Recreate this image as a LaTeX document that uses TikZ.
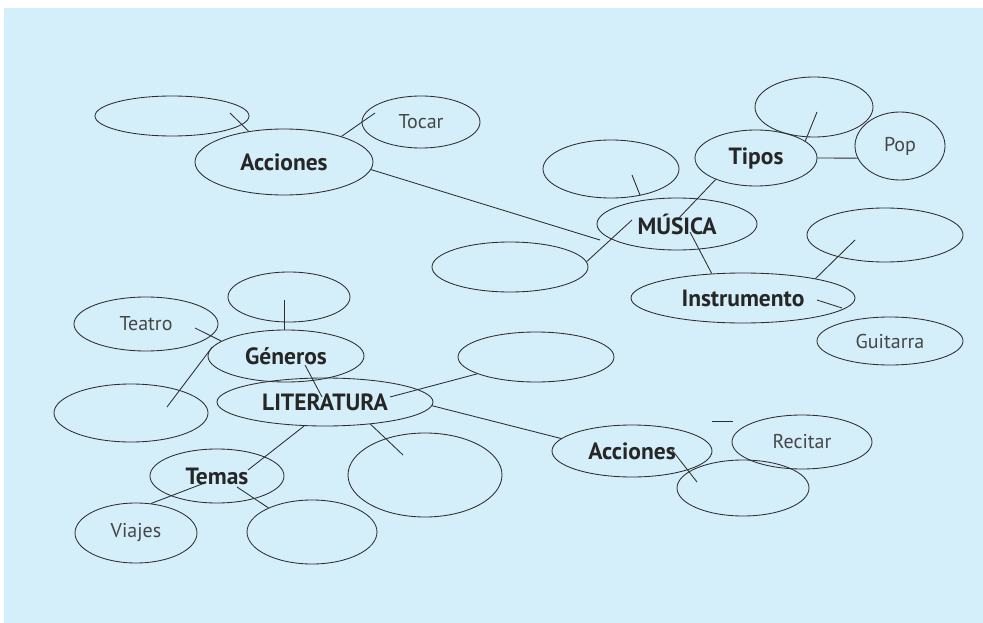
\documentclass[tikz,border=0pt]{standalone}
\usepackage{fontspec}
\setmainfont{PT Sans}
\usetikzlibrary{shapes.geometric}
\definecolor{mapblue}{RGB}{212,238,250}
\definecolor{mapline}{RGB}{45,45,45}
\definecolor{mapgray}{RGB}{70,70,70}

\begin{document}
\begin{tikzpicture}[x=1pt,y=-1pt,line width=0.85pt,color=mapline,
    oval/.style 2 args={draw=mapline,shape=ellipse,inner sep=0pt,minimum width=#1,minimum height=#2}]
    \tikzstyle{main}=[font=\fontsize{23.5}{24}\selectfont\bfseries,text=black!85]
    \tikzstyle{leaf}=[font=\fontsize{20}{20}\selectfont,text=mapgray]
    \useasboundingbox (0, 0) rectangle (983, 623);
    \fill[mapblue] (4, 8) rectangle (983, 623);

    \node at (172, 116) (acc1)    [oval={154pt}{40pt}] {};
    \node at (421, 122) (tocar)   [oval={118pt}{52pt},leaf] {Tocar};
    \node at (284, 162) (acc)     [oval={178pt}{66pt},main] {Acciones};
    \node at (814, 107) (tip1)    [oval={118pt}{60pt}] {};
    \node at (900, 146) (pop)     [oval={90pt}{68pt},leaf] {Pop};
    \node at (756, 158) (tipos)   [oval={122pt}{56pt},main] {Tipos};
    \node at (611, 169) (mus1)    [oval={136pt}{58pt}] {};
    \node at (677, 224) (musica)  [oval={160pt}{52pt},main] {MÚSICA};
    \node at (510, 267) (mus2)    [oval={156pt}{50pt}] {};
    \node at (885, 235) (ins1)    [oval={156pt}{54pt}] {};
    \node at (743, 298) (instr)   [oval={224pt}{50pt},main] {Instrumento};
    \node at (890, 341) (guit)    [oval={146pt}{48pt},leaf] {Guitarra};
    \node at (289, 297) (gen1)    [oval={122pt}{50pt}] {};
    \node at (146, 324) (teatro)  [oval={144pt}{54pt},leaf] {Teatro};
    \node at (286, 356) (generos) [oval={156pt}{52pt},main] {Géneros};
    \node at (536, 357) (lit1)    [oval={156pt}{50pt}] {};
    \node at (131, 413) (gen2)    [oval={154pt}{58pt}] {};
    \node at (325, 402) (lit)     [oval={216pt}{48pt},main] {LITERATURA};
    \node at (425, 475) (lit2)    [oval={154pt}{84pt}] {};
    \node at (632, 451) (acc2)    [oval={160pt}{52pt},main] {Acciones};
    \node at (802, 442) (recitar) [oval={140pt}{54pt},leaf] {Recitar};
    \node at (743, 488) (acc2b)   [oval={132pt}{56pt}] {};
    \node at (217, 476) (temas)   [oval={134pt}{54pt},main] {Temas};
    \node at (136, 533) (viajes)  [oval={122pt}{60pt},leaf] {Viajes};
    \node at (312, 532) (tem1)    [oval={130pt}{64pt}] {};

    \draw ([shift={(58,-3)}]acc1.center) -- (acc.139);
    \draw (acc.24) -- ([shift={(-46,-9)}]tocar.center);
    \draw (acc.-5) -- ([shift={(-77,16)}]musica.center);
    \draw ([shift={(21,6)}]mus1.center) -- ([shift={(-37,-29)}]musica.center);
    \draw (tipos.208) -- ([shift={(0,-4)}]musica.center);
    \draw ([shift={(-45,-4)}]musica.center) -- (mus2.4);
    \draw ([shift={(13,8)}]musica.center) -- (instr.142);
    \draw ([shift={(-30,5)}]ins1.center) -- (instr.15);
    \draw ([shift={(74,2)}]instr.center) -- ([shift={(-48,-33)}]guit.center);
    \draw (tipos.east) -- (pop.196);
    \draw ([shift={(3,5)}]tip1.center) -- (tipos.19);
    \draw ([shift={(-5,3)}]gen1.center) -- ([xshift=-2pt]generos.north);
    \draw ([shift={(49,4)}]teatro.center) -- (generos.167);
    \draw (generos.173) -- ([shift={(36,-6)}]gen2.center);
    \draw ([shift={(19,9)}]generos.center) -- ([shift={(-3,-5)}]lit.center);
    \draw ([shift={(65,-5)}]lit.center) -- (lit1.196);
    \draw (lit.-2) -- (acc2.170);
    \draw (lit.-26) -- ([shift={(-22,-20)}]lit2.center);
    \draw (lit.229) -- ([shift={(31,-6)}]temas.center);
    \draw ([shift={(-15,8)}]temas.center) -- (viajes.63);
    \draw ([shift={(20,11)}]temas.center) -- (tem1.151);
    \draw ([shift={(40,-1)}]acc2.center) -- ([shift={(-46,-6)}]acc2b.center);
    \draw ([shift={(-90,-21)}]recitar.center) -- ++(21, 0);
\end{tikzpicture}
\end{document}
